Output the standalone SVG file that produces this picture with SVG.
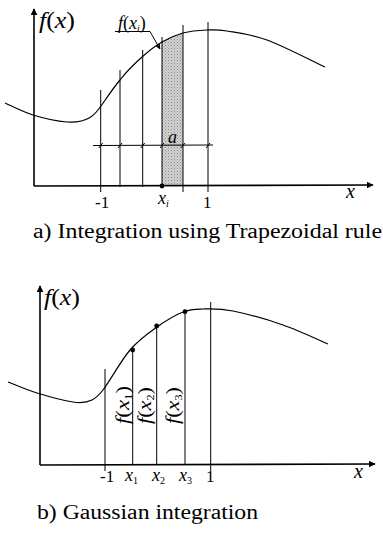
<svg xmlns="http://www.w3.org/2000/svg" width="383" height="543" viewBox="0 0 383 543">
<defs>
<marker id="arr" viewBox="0 0 10 10" refX="9" refY="5" markerWidth="7" markerHeight="7" orient="auto" markerUnits="userSpaceOnUse"><path d="M0,0 L10,5 L0,10 Z" fill="#000"/></marker>
<marker id="arrs" viewBox="0 0 10 10" refX="9" refY="5" markerWidth="5" markerHeight="5" orient="auto" markerUnits="userSpaceOnUse"><path d="M0,0 L10,5 L0,10 Z" fill="#000"/></marker>
<pattern id="stip" width="3" height="3" patternUnits="userSpaceOnUse"><rect width="3" height="3" fill="#d4d4d4"/><rect x="0" y="0" width="1" height="1" fill="#888"/><rect x="1.5" y="1.5" width="1" height="1" fill="#999"/></pattern>
</defs>
<style>
.ax{stroke:#000;stroke-width:1.6;fill:none}
.ln{stroke:#000;stroke-width:1;fill:none}
.cv{stroke:#000;stroke-width:1.2;fill:none}
.t{font-family:'Liberation Serif','DejaVu Serif',serif;fill:#000}
.it{font-style:italic}
</style>
<rect width="383" height="543" fill="#fff"/>

<g id="plot-a">
<path id="shade" d="M162,186 L162,42 C168.8,38 175.5,35 183,33 L183,186 Z" fill="url(#stip)"/>
<g id="axes-a">
<line class="ax" x1="34" y1="186" x2="34" y2="9" marker-end="url(#arr)"/>
<line class="ax" x1="34" y1="186" x2="373" y2="185" marker-end="url(#arr)"/>
</g>
<path id="curve-a" class="cv" d="M5,103 C9.7,105 22.7,111.8 33,115 C43.3,118.2 57.8,121.3 67,122 C76.2,122.7 84,121 90,117.5 C95,114.5 97.5,111 101,106 C106,99 113.2,88 120,80 C126.8,71 135,63.3 142,57 C149,50.7 155.2,46 162,42 C168.8,38 175.5,35 183,33 C190.5,31 199.7,30.3 207,30 C214.3,29.7 217,29.3 227,31 C237,32.7 250.7,34 267,40 C283.3,46 315.3,62.5 325,67"/>
<g id="verticals-a">
<line class="ln" x1="100.7" y1="90" x2="100.7" y2="192"/>
<line class="ln" x1="120" y1="70" x2="120" y2="187"/>
<line class="ln" x1="142.7" y1="50" x2="142.7" y2="187"/>
<line class="ln" x1="162" y1="37" x2="162" y2="187" stroke-width="1.4"/>
<line class="ln" x1="183" y1="25" x2="183" y2="192"/>
<line class="ln" x1="208" y1="22" x2="208" y2="192"/>
</g>
<g id="dimension-a">
<line class="ln" x1="93" y1="145.5" x2="213" y2="145"/>
<path class="ln" d="M98.7,148 L102.7,143 M118,148 L122,143 M140.7,148 L144.7,143 M160,148 L164,143 M181,148 L185,143 M206,148 L210,143"/>
</g>
<circle cx="162" cy="186" r="2.4" fill="#000"/>
<g id="label-fxi">
<text class="t" x="118" y="29" font-size="18"><tspan class="it">f</tspan>(<tspan class="it">x</tspan><tspan class="it" font-size="10" dy="3">i</tspan><tspan dy="-3">)</tspan></text>
<polyline class="ln" points="115,31.5 150,31.5 160,49" marker-end="url(#arrs)"/>
</g>
<text class="t" x="39" y="28" font-size="23" textLength="36" lengthAdjust="spacingAndGlyphs"><tspan class="it">f</tspan>(<tspan class="it">x</tspan>)</text>
<text class="t it" x="168" y="143" font-size="18">a</text>
<text class="t it" x="346" y="198" font-size="20">x</text>
<text class="t" x="95" y="208" font-size="17">-1</text>
<text class="t it" x="158" y="204" font-size="18">x<tspan font-size="10" dy="3">i</tspan></text>
<text class="t" x="203" y="208" font-size="17">1</text>
<text class="t" x="33" y="238" font-size="20" textLength="349" lengthAdjust="spacingAndGlyphs">a) Integration using Trapezoidal rule</text>
</g>

<g id="plot-b">
<g id="axes-b">
<line class="ax" x1="40" y1="465" x2="40" y2="286" marker-end="url(#arr)"/>
<line class="ax" x1="40" y1="465" x2="375" y2="464" marker-end="url(#arr)"/>
</g>
<path id="curve-b" class="cv" d="M8,382 C12.8,383.8 26.2,389.7 37,393 C47.8,396.3 64.2,400.7 73,402 C81.8,403.3 87,402.5 92,400 C97,397.5 99,395 103,390 C109.7,381.5 121,360.5 130,350 C139,339.5 148.2,333.3 157,327 C165.8,320.7 175.3,315 183,312 C190.7,309 194.7,309.2 203,309 C211.3,308.8 219.7,308.3 233,311 C246.3,313.7 267.2,319.5 283,325 C298.8,330.5 320.5,340.8 328,344"/>
<g id="verticals-b">
<line class="ln" x1="105" y1="369" x2="105" y2="471" stroke-width="1.3"/>
<line class="ln" x1="132.7" y1="350" x2="132.7" y2="465"/>
<line class="ln" x1="156.7" y1="326" x2="156.7" y2="465"/>
<line class="ln" x1="185" y1="311.7" x2="185" y2="465"/>
<line class="ln" x1="210.7" y1="302" x2="210.7" y2="471" stroke-width="1.3"/>
</g>
<g id="points-b">
<circle cx="132.7" cy="350" r="2.4" fill="#000"/>
<circle cx="156.7" cy="326" r="2.4" fill="#000"/>
<circle cx="185" cy="311.7" r="2.4" fill="#000"/>
</g>
<g id="rot-labels">
<text class="t" transform="translate(129,424) rotate(-90)" font-size="18" textLength="38" lengthAdjust="spacingAndGlyphs"><tspan class="it">f</tspan>(<tspan class="it">x</tspan><tspan font-size="10" dy="3">1</tspan><tspan dy="-3">)</tspan></text>
<text class="t" transform="translate(151,424) rotate(-90)" font-size="18" textLength="37" lengthAdjust="spacingAndGlyphs"><tspan class="it">f</tspan>(<tspan class="it">x</tspan><tspan font-size="10" dy="3">2</tspan><tspan dy="-3">)</tspan></text>
<text class="t" transform="translate(179,424) rotate(-90)" font-size="18" textLength="37" lengthAdjust="spacingAndGlyphs"><tspan class="it">f</tspan>(<tspan class="it">x</tspan><tspan font-size="10" dy="3">3</tspan><tspan dy="-3">)</tspan></text>
</g>
<text class="t" x="44" y="305" font-size="23" textLength="36" lengthAdjust="spacingAndGlyphs"><tspan class="it">f</tspan>(<tspan class="it">x</tspan>)</text>
<text class="t it" x="354" y="478" font-size="20">x</text>
<text class="t" x="100" y="482" font-size="17">-1</text>
<text class="t it" x="125" y="481" font-size="18">x<tspan font-size="10" dy="3" font-style="normal">1</tspan></text>
<text class="t it" x="152" y="481" font-size="18">x<tspan font-size="10" dy="3" font-style="normal">2</tspan></text>
<text class="t it" x="179" y="481" font-size="18">x<tspan font-size="10" dy="3" font-style="normal">3</tspan></text>
<text class="t" x="206" y="482" font-size="17">1</text>
<text class="t" x="37" y="519" font-size="20" textLength="221" lengthAdjust="spacingAndGlyphs">b) Gaussian integration</text>
</g>
</svg>
